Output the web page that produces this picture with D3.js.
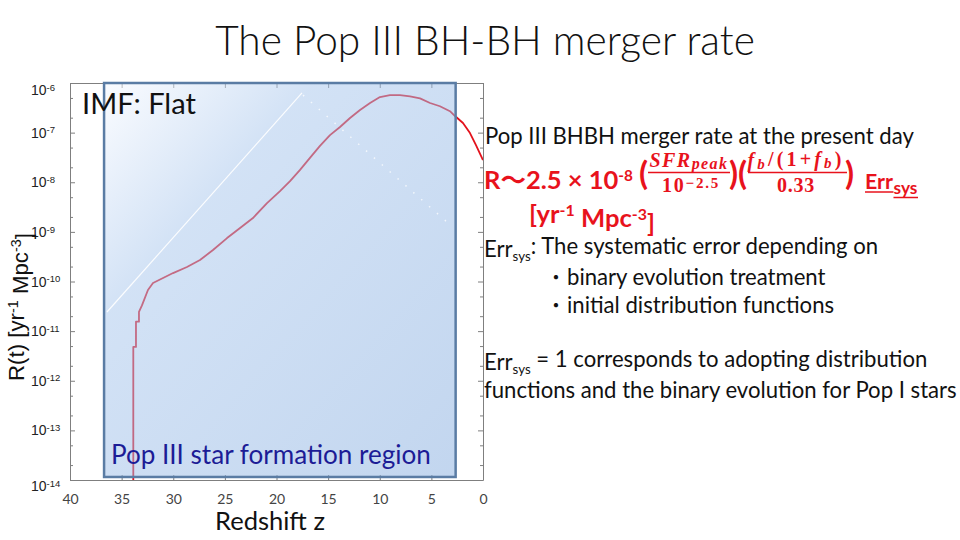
<!DOCTYPE html>
<html><head><meta charset="utf-8">
<script src="https://cdn.jsdelivr.net/npm/d3@7"></script>
<style>body{margin:0;background:#fff;} svg{display:block;}</style>
</head><body>
<svg id="c" width="960" height="540"></svg>
<script>
// ---------------- data ----------------
const zValues = [33.87,33.87,33.61,33.61,33.32,33.32,33.03,32.45,31.96,30.99,30.02,28.67,27.41,26.15,24.79,23.53,22.28,20.92,19.66,18.69,17.72,16.76,15.79,14.82,13.85,12.88,11.91,10.94,9.98,9.01,8.04,7.07,6.10,5.13,4.17,3.20,2.71,1.94,1.26,0.68,0.0];
const rateValues = [1e-14,4.8e-12,4.8e-12,1.55e-11,1.55e-11,2.45e-11,3.3e-11,6.75e-11,9.3e-11,1.18e-10,1.48e-10,1.96e-10,2.71e-10,4.31e-10,7.5e-10,1.2e-9,1.9e-9,3.8e-9,6.6e-9,1.05e-8,1.77e-8,3.1e-8,5.4e-8,8.9e-8,1.3e-7,1.97e-7,2.86e-7,3.95e-7,5.2e-7,5.7e-7,5.7e-7,5.4e-7,4.9e-7,3.95e-7,3.4e-7,2.7e-7,2.16e-7,1.56e-7,9.8e-8,5.6e-8,2.8e-8];
const refLineZ = [36.42, 17.53];
const refLineR = [2.43e-11, 6.3e-7];
const dotLineZ = [17.43, 3.49];
const dotLineR = [5.7e-7, 1.58e-9];
const regionZ = [36.7, 2.65];
const regionR = [1.15e-14, 1e-6];
const xTicks = [40,35,30,25,20,15,10,5,0];
const yExponents = [-14,-13,-12,-11,-10,-9,-8,-7,-6];
const minorMantissas = [2,5];

// ---------------- setup ----------------
const svg = d3.select("#c");
const x = d3.scaleLinear().domain([40,0]).range([70,483]);
const y = d3.scaleLog().domain([1e-14,1e-6]).range([480,83]);
const majorY = yExponents.map(e => Math.pow(10, e));
const minorY = [];
yExponents.slice(0,-1).forEach(e => minorMantissas.forEach(m => minorY.push(m*Math.pow(10,e))));

const defs = svg.append("defs");
const grad = defs.append("linearGradient").attr("id","regionGrad")
  .attr("x1",0).attr("y1",0).attr("x2",1).attr("y2",1);
[[0,"#f6f9ff"],[0.3,"#a6c5ec"],[1,"#86addf"]].forEach(([o,c]) =>
  grad.append("stop").attr("offset",o).attr("stop-color",c));
defs.append("clipPath").attr("id","plotClip").append("rect")
  .attr("x",70).attr("y",83).attr("width",413).attr("height",397);

function fit(sel, w){
  const l = sel.node().getComputedTextLength();
  const fs = parseFloat(sel.attr("font-size"));
  sel.attr("font-size", fs*w/l);
  return sel;
}
function spread(sel, w){
  const l = sel.node().getComputedTextLength();
  const n = sel.text().length;
  sel.attr("letter-spacing", (w - l)/n);
  return sel;
}

// ---------------- axes (frame with inward ticks) ----------------
const axisColor = "#7f7f7f";
function styleAxis(g){
  g.selectAll(".domain").attr("stroke",axisColor);
  g.selectAll(".tick line").attr("stroke",axisColor);
}
svg.append("g").attr("transform","translate(0,480)")
  .call(d3.axisBottom(x).tickValues(xTicks).tickSize(-5).tickSizeOuter(0).tickPadding(14))
  .call(styleAxis)
  .call(g => g.selectAll("text").attr("font-family","Lato").attr("font-size",14).attr("fill","#444"));
svg.append("g").attr("transform","translate(0,83)")
  .call(d3.axisTop(x).tickValues(xTicks).tickSize(-5).tickSizeOuter(0).tickFormat(""))
  .call(styleAxis);
svg.append("g").attr("transform","translate(70,0)")
  .call(d3.axisLeft(y).tickValues(majorY).tickSize(-5).tickSizeOuter(0).tickFormat(""))
  .call(styleAxis);
svg.append("g").attr("transform","translate(483,0)")
  .call(d3.axisRight(y).tickValues(majorY).tickSize(-5).tickSizeOuter(0).tickFormat(""))
  .call(styleAxis);
svg.append("g").attr("transform","translate(70,0)")
  .call(d3.axisLeft(y).tickValues(minorY).tickSize(-3).tickFormat(""))
  .call(styleAxis).call(g => g.select(".domain").remove());
svg.append("g").attr("transform","translate(483,0)")
  .call(d3.axisRight(y).tickValues(minorY).tickSize(-3).tickFormat(""))
  .call(styleAxis).call(g => g.select(".domain").remove());

// y tick labels (10^n, left aligned)
svg.append("g").selectAll("text").data(majorY).join("text")
  .attr("x",31)
  .attr("y",(d,i) => y(d) + 5 + (i === majorY.length-1 ? 7 : (i === 0 ? 6 : 0)))
  .attr("font-family","Liberation Sans, Arial").attr("font-size",14).attr("fill","#222")
  .each(function(d){
    const t = d3.select(this);
    t.append("tspan").text("10");
    t.append("tspan").attr("dy","-0.45em").attr("font-size","0.68em").text(String(Math.round(Math.log10(d))));
  });

// ---------------- curve ----------------
const curveData = zValues.map((z,i) => ({z, r: rateValues[i]}));
const line = d3.line().x(d => x(d.z)).y(d => y(d.r));
svg.append("path").datum(curveData).attr("d",line)
  .attr("fill","none").attr("stroke","#e3121c").attr("stroke-width",1.8)
  .attr("stroke-linejoin","round").attr("clip-path","url(#plotClip)");

// ---------------- Pop III star formation region ----------------
const rx = x(regionZ[0]), rw = x(regionZ[1]) - x(regionZ[0]);
const ry = y(regionR[1]), rh = y(regionR[0]) - y(regionR[1]);
svg.append("rect").attr("x",rx).attr("y",ry).attr("width",rw).attr("height",rh)
  .attr("fill","url(#regionGrad)").attr("fill-opacity",0.5);
svg.append("rect").attr("x",rx).attr("y",ry).attr("width",rw).attr("height",rh)
  .attr("fill","none").attr("stroke","#5a7ca4").attr("stroke-width",2.5);

// white reference lines
svg.append("line")
  .attr("x1",x(refLineZ[0])).attr("y1",y(refLineR[0]))
  .attr("x2",x(refLineZ[1])).attr("y2",y(refLineR[1]))
  .attr("stroke","#fff").attr("stroke-width",1.2).attr("stroke-opacity",0.9);
svg.append("line")
  .attr("x1",x(dotLineZ[0])).attr("y1",y(dotLineR[0]))
  .attr("x2",x(dotLineZ[1])).attr("y2",y(dotLineR[1]))
  .attr("stroke","#fff").attr("stroke-width",1.5).attr("stroke-opacity",0.75)
  .attr("stroke-dasharray","1.5 9");

// ---------------- texts ----------------
const calibri = "Lato, 'Open Sans', sans-serif";
fit(svg.append("text").attr("x",485).attr("y",55).attr("text-anchor","middle")
  .attr("font-family",calibri).attr("font-weight",300).attr("font-size",44).attr("fill","#111")
  .text("The Pop III BH-BH merger rate"), 540);

fit(svg.append("text").attr("x",82).attr("y",114)
  .attr("font-family",calibri).attr("font-size",28).attr("fill","#111")
  .text("IMF: Flat"), 114);

fit(svg.append("text").attr("x",111).attr("y",464)
  .attr("font-family",calibri).attr("font-size",24).attr("fill","#1c1c96")
  .text("Pop III star formation region"), 320);

fit(svg.append("text").attr("x",215).attr("y",530)
  .attr("font-family",calibri).attr("font-size",24).attr("fill","#111")
  .text("Redshift z"), 110);

const yt = svg.append("text").attr("transform","translate(24,307) rotate(-90)")
  .attr("text-anchor","middle").attr("font-family","Liberation Sans, Arial")
  .attr("font-size",18).attr("fill","#111");
yt.append("tspan").text("R(t) [yr");
yt.append("tspan").attr("dy","-0.45em").attr("font-size","0.65em").text("-1");
yt.append("tspan").attr("dy","0.45em").text(" Mpc");
yt.append("tspan").attr("dy","-0.45em").attr("font-size","0.65em").text("-3");
yt.append("tspan").attr("dy","0.45em").text("]");
fit(yt, 148);

// right text block
const rt = svg.append("g").attr("font-family",calibri).attr("fill","#111");
const longest = rt.append("text").attr("x",484).attr("y",398).attr("font-size",22)
  .text("functions and the binary evolution for Pop I stars");
fit(longest, 473);
const fsR = parseFloat(longest.attr("font-size"));
rt.append("text").attr("x",485).attr("y",144).attr("font-size",fsR).text("Pop III BHBH merger rate at the present day");
const e1 = rt.append("text").attr("x",484).attr("y",257).attr("font-size",fsR);
e1.append("tspan").text("Err");
e1.append("tspan").attr("dy","0.3em").attr("font-size","0.6em").text("sys");
e1.append("tspan").attr("dy","-0.3em").text(": The systematic error depending on");
rt.append("text").attr("x",546).attr("y",285).attr("font-size",fsR*0.9).attr("font-family","Noto Sans CJK JP").text("・");
rt.append("text").attr("x",567).attr("y",285).attr("font-size",fsR).text("binary evolution treatment");
rt.append("text").attr("x",546).attr("y",313).attr("font-size",fsR*0.9).attr("font-family","Noto Sans CJK JP").text("・");
rt.append("text").attr("x",567).attr("y",313).attr("font-size",fsR).text("initial distribution functions");
const e2 = rt.append("text").attr("x",484).attr("y",370).attr("font-size",fsR);
e2.append("tspan").text("Err");
e2.append("tspan").attr("dy","0.3em").attr("font-size","0.6em").text("sys");
e2.append("tspan").attr("dy","-0.3em").text(" = 1 corresponds to adopting distribution");

// formula (red)
const red = "#e8121c";
const fg = svg.append("g").attr("fill",red);
const f1 = fg.append("text").attr("x",484).attr("y",189).attr("font-family",calibri)
  .attr("font-weight",700).attr("font-size",22);
f1.append("tspan").text("R");
f1.append("tspan").attr("font-family","Noto Sans CJK JP").text("～");
f1.append("tspan").text("2.5 × 10");
f1.append("tspan").attr("dy","-0.5em").attr("font-size","0.6em").text("-8");
fit(f1, 149);
const paren = (px, s) => fg.append("text").attr("x",px).attr("y",185).attr("font-family",calibri)
  .attr("font-weight",700).attr("font-size",33).text(s);
paren(639,"(");
paren(729,")(");
paren(845,")");
const serif = "'Liberation Serif', 'DejaVu Serif', serif";
const n1 = fg.append("text").attr("x",689).attr("y",167).attr("text-anchor","middle")
  .attr("font-family",serif).attr("font-weight",700).attr("font-style","italic").attr("font-size",20);
n1.append("tspan").text("SFR");
n1.append("tspan").attr("dy","0.12em").attr("font-size","0.8em").text("peak");
spread(n1, 79);
const d1 = fg.append("text").attr("x",691).attr("y",192).attr("text-anchor","middle")
  .attr("font-family",serif).attr("font-weight",700).attr("font-size",20);
d1.append("tspan").text("10");
d1.append("tspan").attr("dy","-0.3em").attr("font-size","0.75em").text("−2.5");
spread(d1, 58);
const n2 = fg.append("text").attr("x",796).attr("y",167).attr("text-anchor","middle")
  .attr("font-family",serif).attr("font-weight",700).attr("font-style","italic").attr("font-size",20);
n2.append("tspan").text("f");
n2.append("tspan").attr("dy","0.12em").attr("font-size","0.75em").text("b");
n2.append("tspan").attr("dy","-0.12em").attr("font-style","normal").text("/(1+");
n2.append("tspan").text("f");
n2.append("tspan").attr("dy","0.12em").attr("font-size","0.75em").text("b");
n2.append("tspan").attr("dy","-0.12em").attr("font-style","normal").text(")");
spread(n2, 97);
spread(fg.append("text").attr("x",796).attr("y",192).attr("text-anchor","middle")
  .attr("font-family",serif).attr("font-weight",700).attr("font-size",20).text("0.33"), 38);
fg.append("line").attr("x1",648).attr("x2",730).attr("y1",172.5).attr("y2",172.5).attr("stroke",red).attr("stroke-width",1.5);
fg.append("line").attr("x1",748).attr("x2",847).attr("y1",172.5).attr("y2",172.5).attr("stroke",red).attr("stroke-width",1.5);
const errT = fg.append("text").attr("x",865).attr("y",189).attr("font-family",calibri)
  .attr("font-weight",700).attr("font-size",20).text("Err");
fit(errT, 28);
const errW = errT.node().getComputedTextLength();
const sysT = fg.append("text").attr("x",865+errW+0.5).attr("y",194).attr("font-family",calibri)
  .attr("font-weight",700).attr("font-size",14).text("sys");
fit(sysT, 24);
fg.append("line").attr("x1",865).attr("x2",865+errW+0.5).attr("y1",192).attr("y2",192).attr("stroke",red).attr("stroke-width",1.5);
fg.append("line").attr("x1",865+errW+0.5).attr("x2",865+errW+25).attr("y1",197.5).attr("y2",197.5).attr("stroke",red).attr("stroke-width",1.5);
const u = fg.append("text").attr("x",529).attr("y",223).attr("font-family",calibri)
  .attr("font-weight",700).attr("font-size",22);
u.append("tspan").text("[yr");
u.append("tspan").attr("dy","-0.45em").attr("font-size","0.62em").text("-1");
u.append("tspan").attr("dy","0.45em").text(" Mpc");
u.append("tspan").attr("dy","-0.45em").attr("font-size","0.62em").text("-3");
u.append("tspan").attr("dy","0.45em").text("]");
fit(u, 126);
</script>
</body></html>
